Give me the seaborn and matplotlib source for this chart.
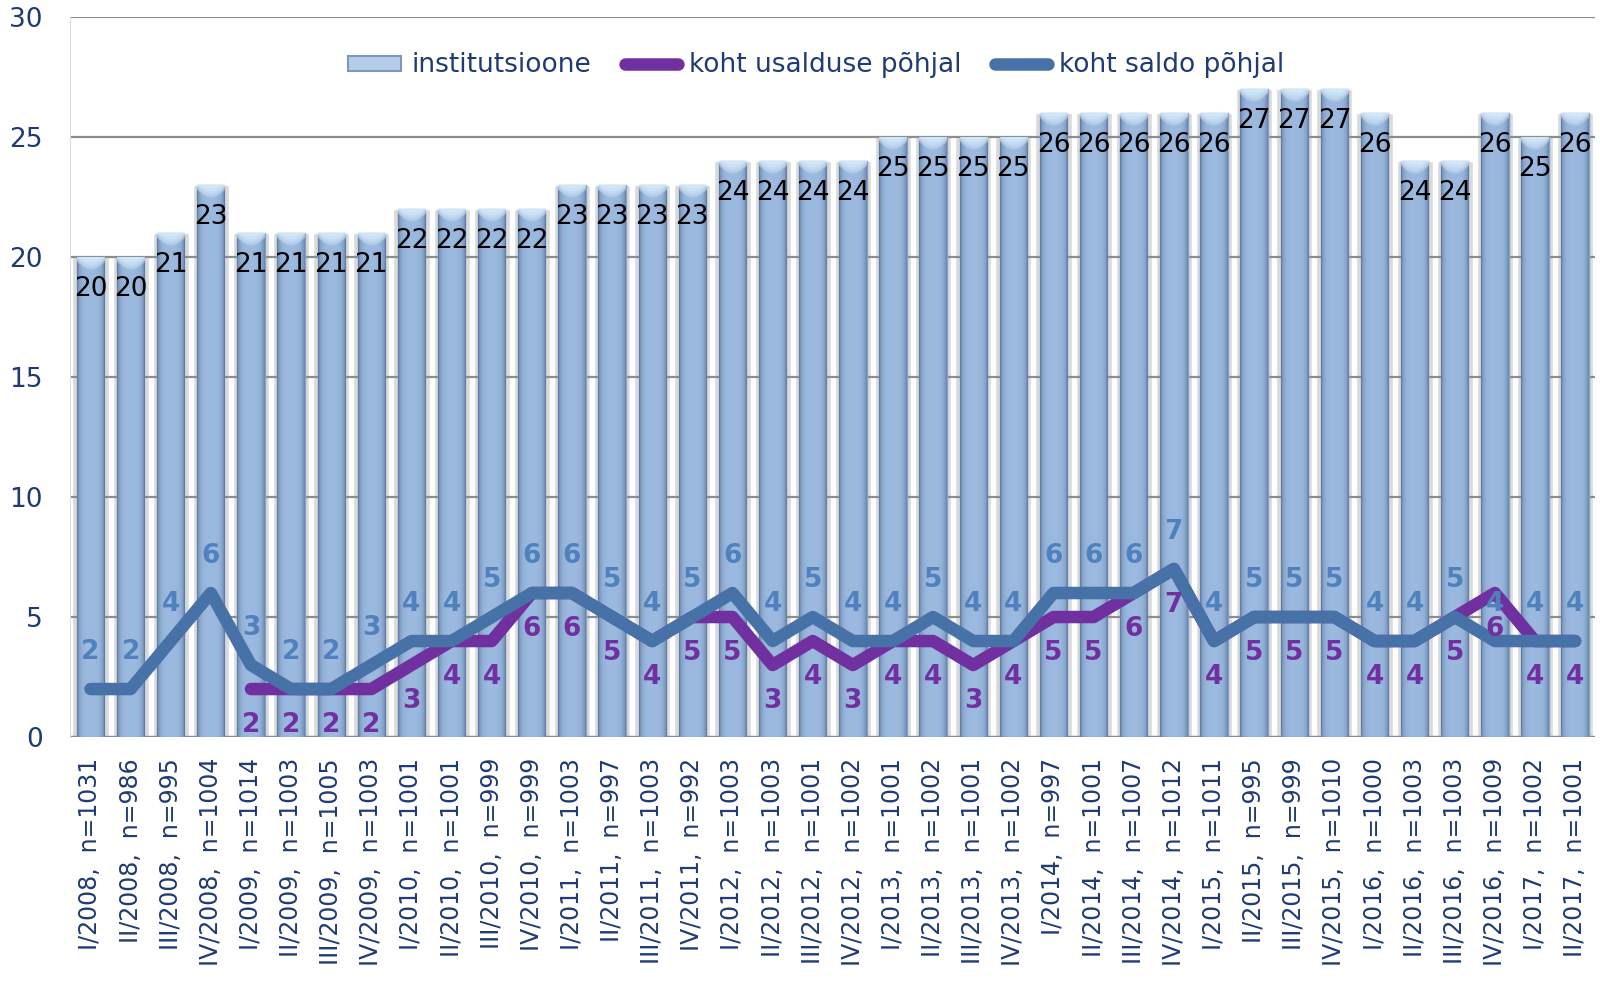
import numpy as np
import pandas as pd
import seaborn as sns
import matplotlib.pyplot as plt
from matplotlib.patches import Patch
from matplotlib.lines import Line2D

quarters = ["I/2008", "II/2008", "III/2008", "IV/2008",
            "I/2009", "II/2009", "III/2009", "IV/2009",
            "I/2010", "II/2010", "III/2010", "IV/2010",
            "I/2011", "II/2011", "III/2011", "IV/2011",
            "I/2012", "II/2012", "III/2012", "IV/2012",
            "I/2013", "II/2013", "III/2013", "IV/2013",
            "I/2014", "II/2014", "III/2014", "IV/2014",
            "I/2015", "II/2015", "III/2015", "IV/2015",
            "I/2016", "II/2016", "III/2016", "IV/2016",
            "I/2017", "II/2017"]
sample_n = [1031, 986, 995, 1004, 1014, 1003, 1005, 1003, 1001, 1001, 999, 999,
            1003, 997, 1003, 992, 1003, 1003, 1001, 1002, 1001, 1002, 1001, 1002,
            997, 1001, 1007, 1012, 1011, 995, 999, 1010, 1000, 1003, 1003, 1009,
            1002, 1001]
institutions = [20, 20, 21, 23, 21, 21, 21, 21, 22, 22, 22, 22, 23, 23, 23, 23,
                24, 24, 24, 24, 25, 25, 25, 25, 26, 26, 26, 26, 26, 27, 27, 27,
                26, 24, 24, 26, 25, 26]
trust_rank = [np.nan, np.nan, np.nan, np.nan,
              2, 2, 2, 2, 3, 4, 4, 6, 6, 5, 4, 5, 5, 3, 4, 3, 4, 4, 3, 4,
              5, 5, 6, 7, 4, 5, 5, 5, 4, 4, 5, 6, 4, 4]
balance_rank = [2, 2, 4, 6, 3, 2, 2, 3, 4, 4, 5, 6, 6, 5, 4, 5, 6, 4, 5, 4,
                4, 5, 4, 4, 6, 6, 6, 7, 4, 5, 5, 5, 4, 4, 5, 4, 4, 4]

tick_labels = [f"{q},  n={n}" for q, n in zip(quarters, sample_n)]
df = pd.DataFrame({"label": tick_labels, "pos": range(len(quarters)),
                   "inst": institutions, "trust": trust_rank, "saldo": balance_rank})

NAVY = "#1f3b73"
BAR = "#9bb9de"
PURPLE = "#7030a0"
BLUE_LINE = "#4672a8"
BLUE_TEXT = "#4f81bd"

sns.set_style("white")
plt.rcParams["font.family"] = ["DejaVu Sans"]

fig, ax = plt.subplots(figsize=(16, 9.92), dpi=100)
fig.subplots_adjust(left=0.044, right=0.997, top=0.983, bottom=0.257)

# soft shadow behind the bars
sns.barplot(data=df, x="label", y="inst", width=0.9, color="#dadada", saturation=1,
            errorbar=None, ax=ax, zorder=0.2)
n_shadow = len(ax.patches)
sns.barplot(data=df, x="label", y="inst", width=0.68, color=BAR, saturation=1,
            errorbar=None, edgecolor="#86a2c8", linewidth=1, ax=ax, zorder=2)
bars = ax.patches[n_shadow:]

# glossy look: darker edges + light cap on top
t = np.linspace(-1, 1, 64)
side = np.zeros((1, 64, 4))
side[..., :3] = (0.22, 0.33, 0.50)
side[..., 3] = 0.5 * np.abs(t) ** 4
yy, xx = np.mgrid[0:1:40j, -1:1:64j]
cap = np.zeros((40, 64, 4))
cap[..., :3] = (0.88, 0.96, 1.0)
depth = 1 - 0.55 * xx ** 2
cap[..., 3] = 0.9 * np.clip(1 - yy / depth, 0, 1) ** 0.5
for p in bars:
    x0, w, h = p.get_x(), p.get_width(), p.get_height()
    im = ax.imshow(side, extent=(x0, x0 + w, 0, h), aspect="auto",
                   interpolation="bilinear", zorder=2.1)
    im.set_clip_path(p)
    im2 = ax.imshow(cap, extent=(x0, x0 + w, h - 0.55, h), aspect="auto",
                    interpolation="bilinear", zorder=2.2)
    im2.set_clip_path(p)

sns.lineplot(data=df, x="pos", y="trust", color=PURPLE, lw=9, ax=ax, zorder=3,
             solid_capstyle="round", solid_joinstyle="round")
sns.lineplot(data=df, x="pos", y="saldo", color=BLUE_LINE, lw=9, ax=ax, zorder=4,
             solid_capstyle="round", solid_joinstyle="round")

for _, r in df.iterrows():
    ax.text(r.pos, r.inst - 1.35, f"{r.inst}", ha="center", va="center",
            fontsize=19, color="black", zorder=5)
    ax.text(r.pos, r.saldo + 1.55, f"{r.saldo}", ha="center", va="center",
            fontsize=19, fontweight="bold", color=BLUE_TEXT, zorder=6)
    if not np.isnan(r.trust):
        ax.text(r.pos, r.trust - 1.5, f"{int(r.trust)}", ha="center", va="center",
                fontsize=19, fontweight="bold", color=PURPLE, zorder=6)

ax.set_xlim(-0.5, len(quarters) - 0.5)
ax.set_ylim(0, 30)
ax.set_yticks(range(0, 31, 5))
ax.set_xticks(df["pos"], labels=tick_labels, rotation=90, ha="center", va="top")
ax.set_xlabel("")
ax.set_ylabel("")
ax.tick_params(axis="both", length=0, labelcolor=NAVY)
ax.tick_params(axis="x", pad=15, labelsize=17)
ax.tick_params(axis="y", pad=20, labelsize=19)

ax.set_axisbelow(True)
ax.yaxis.grid(True, color="#8c8c8c", lw=1.6, zorder=0.5)
ax.axhline(0, color="#8c8c8c", lw=1.6, zorder=0.5)
for s in ["top", "right", "bottom"]:
    ax.spines[s].set_visible(False)
ax.spines["left"].set_color("#dddddd")

handles = [Patch(facecolor="#b5cde9", edgecolor="#7f97b8", lw=1.5),
           Line2D([], [], color=PURPLE, lw=9, solid_capstyle="round"),
           Line2D([], [], color=BLUE_LINE, lw=9, solid_capstyle="round")]
fig.legend(handles, ["institutsioone", "koht usalduse põhjal", "koht saldo põhjal"],
           loc="center", bbox_to_anchor=(0.51, 0.934), ncol=3, frameon=False,
           fontsize=19, labelcolor=NAVY, handlelength=2.0, handleheight=0.5,
           handletextpad=0.4, columnspacing=1.3)

plt.savefig("out.png", dpi=100)
plt.close()
